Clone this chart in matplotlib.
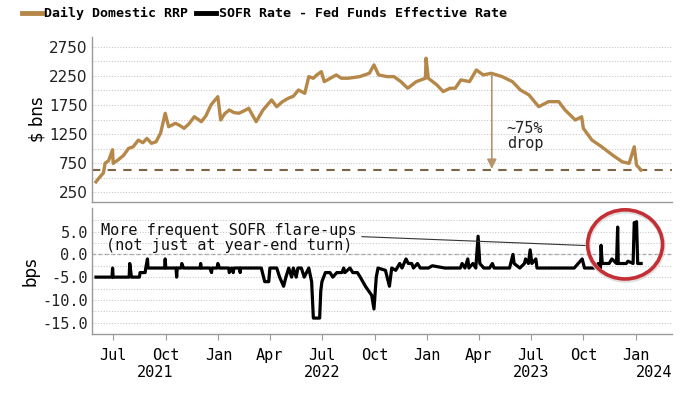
import numpy as np
import pandas as pd
import matplotlib
matplotlib.use("Agg")
import matplotlib.pyplot as plt
import matplotlib.dates as mdates
from matplotlib.patches import Ellipse
from matplotlib.lines import Line2D

# Daily domestic reverse repo usage ($ bns)
rrp_dates = ["2021-06-01", "2021-06-08", "2021-06-14", "2021-06-17", "2021-06-23", "2021-06-30",
             "2021-07-01", "2021-07-09", "2021-07-19", "2021-07-28", "2021-08-05", "2021-08-14",
             "2021-08-22", "2021-08-29", "2021-09-06", "2021-09-14", "2021-09-22", "2021-09-30",
             "2021-10-06", "2021-10-18", "2021-10-25", "2021-11-02", "2021-11-10", "2021-11-20",
             "2021-12-02", "2021-12-10", "2021-12-19", "2021-12-31", "2022-01-05", "2022-01-12",
             "2022-01-20", "2022-01-28", "2022-02-06", "2022-02-15", "2022-02-23", "2022-03-08",
             "2022-03-20", "2022-04-04", "2022-04-13", "2022-04-23", "2022-05-03", "2022-05-12",
             "2022-05-21", "2022-06-01", "2022-06-08", "2022-06-16", "2022-06-22", "2022-06-30",
             "2022-07-05", "2022-07-14", "2022-07-26", "2022-08-04", "2022-08-16", "2022-09-05",
             "2022-09-22", "2022-09-30", "2022-10-08", "2022-10-23", "2022-11-04", "2022-11-16",
             "2022-11-28", "2022-12-13", "2022-12-29", "2022-12-30", "2023-01-03", "2023-01-18",
             "2023-01-29", "2023-02-10", "2023-02-19", "2023-03-01", "2023-03-16", "2023-03-28",
             "2023-04-09", "2023-04-23", "2023-05-12", "2023-05-30", "2023-06-13", "2023-06-28",
             "2023-07-15", "2023-08-01", "2023-08-19", "2023-08-30", "2023-09-17", "2023-09-28",
             "2023-10-01", "2023-10-16", "2023-11-02", "2023-11-21", "2023-12-08", "2023-12-20",
             "2023-12-29", "2024-01-02", "2024-01-10"]
rrp_bns = [427, 514, 580, 750, 790, 980,
           745, 800, 880, 1003, 1030, 1146,
           1100, 1175, 1090, 1117, 1267, 1607,
           1376, 1434, 1400, 1348, 1420, 1548,
           1462, 1560, 1750, 1893, 1491, 1600,
           1664, 1620, 1607, 1650, 1693, 1462,
           1664, 1836, 1720, 1807, 1865, 1900,
           2008, 1951, 2238, 2210, 2267, 2324,
           2152, 2200, 2267, 2210, 2210, 2238,
           2296, 2440, 2267, 2238, 2238, 2152,
           2038, 2152, 2210, 2555, 2210, 2095,
           1980, 2038, 2038, 2181, 2152, 2353,
           2267, 2296, 2238, 2152, 2008, 1922,
           1720, 1807, 1807, 1664, 1491, 1548,
           1348, 1146, 1031, 888, 772, 745,
           1031, 715, 629]

# SOFR minus fed funds effective rate (bps)
sofr_dates = ["2021-06-01", "2021-06-29", "2021-06-30", "2021-07-01", "2021-07-29", "2021-07-30",
              "2021-08-02", "2021-08-16", "2021-08-17", "2021-08-26", "2021-08-27", "2021-08-30",
              "2021-08-31", "2021-09-29", "2021-09-30", "2021-10-01", "2021-10-19", "2021-10-20",
              "2021-10-21", "2021-10-28", "2021-10-29", "2021-11-01", "2021-11-30", "2021-12-01",
              "2021-12-02", "2021-12-17", "2021-12-20", "2021-12-21", "2021-12-30", "2021-12-31",
              "2022-01-03", "2022-01-19", "2022-01-20", "2022-01-24", "2022-01-27", "2022-01-28",
              "2022-02-07", "2022-02-08", "2022-02-09", "2022-03-17", "2022-03-23", "2022-03-30",
              "2022-04-01", "2022-04-13", "2022-04-18", "2022-04-25", "2022-04-29", "2022-05-04",
              "2022-05-09", "2022-05-12", "2022-05-17", "2022-05-20", "2022-05-26", "2022-05-31",
              "2022-06-08", "2022-06-13", "2022-06-16", "2022-06-27", "2022-06-29", "2022-07-01",
              "2022-07-07", "2022-07-15", "2022-07-20", "2022-07-27", "2022-08-05", "2022-08-08",
              "2022-08-10", "2022-08-19", "2022-08-24", "2022-09-01", "2022-09-06", "2022-09-15",
              "2022-09-26", "2022-09-30", "2022-10-04", "2022-10-07", "2022-10-20", "2022-10-27",
              "2022-10-31", "2022-11-07", "2022-11-14", "2022-11-18", "2022-11-25", "2022-11-29",
              "2022-12-05", "2022-12-08", "2022-12-15", "2022-12-20", "2023-01-03", "2023-01-10",
              "2023-02-01", "2023-02-28", "2023-03-03", "2023-03-08", "2023-03-13", "2023-03-15",
              "2023-03-22", "2023-03-27", "2023-03-31", "2023-04-03", "2023-04-10", "2023-04-20",
              "2023-04-25", "2023-04-28", "2023-05-25", "2023-05-31", "2023-06-02", "2023-06-12",
              "2023-06-20", "2023-06-22", "2023-06-27", "2023-06-30", "2023-07-03", "2023-07-10",
              "2023-07-12", "2023-09-15", "2023-09-29", "2023-10-03", "2023-10-20", "2023-10-27",
              "2023-10-31", "2023-11-01", "2023-11-03", "2023-11-15", "2023-11-20", "2023-11-28",
              "2023-11-30", "2023-12-01", "2023-12-15", "2023-12-18", "2023-12-27", "2023-12-29",
              "2024-01-01", "2024-01-02", "2024-01-04", "2024-01-10"]
sofr_bps = [-5, -5, -3, -5, -5, -2,
            -5, -5, -4, -4, -3, -1,
            -3, -3, -1, -3, -3, -5,
            -3, -3, -2, -3, -3, -2,
            -3, -3, -4, -3, -3, -2,
            -3, -3, -4, -3, -4, -3,
            -3, -4, -3, -3, -6, -6,
            -3, -3, -5, -7, -5, -3,
            -5, -3, -5, -3, -3, -5,
            -3, -6, -14, -14, -8, -6,
            -4, -4, -5, -4, -4, -3,
            -4, -3, -4, -4, -5, -7,
            -9, -12, -5, -3, -3.5, -7,
            -3, -3.5, -2, -3, -1, -2,
            -2, -3, -2, -3, -3, -2.5,
            -3, -3, -2, -3, -1, -3,
            -2, -3, 4, -2, -3, -3,
            -2, -3, -3, 0, -2, -3,
            -2, -1, -2, 1, -2, -1,
            -3, -3, -1, -3, -3, -2,
            -3, 2, -2, -2, -1, -2,
            6, -2, -2, -1.5, -2, 7,
            6, 7.2, -2, -2]

rrp_level_now = 630  # dashed reference line
month_ticks = ["2021-07-01", "2021-10-01", "2022-01-01", "2022-04-01", "2022-07-01", "2022-10-01",
               "2023-01-01", "2023-04-01", "2023-07-01", "2023-10-01", "2024-01-01"]
month_labels = ["Jul", "Oct", "Jan", "Apr", "Jul", "Oct", "Jan", "Apr", "Jul", "Oct", "Jan"]
year_labels = ["2021", "2022", "2023", "2024"]
year_pos = ["2021-09-12", "2022-07-02", "2023-07-02", "2024-02-01"]

rrp_dates = pd.to_datetime(rrp_dates)
sofr_dates = pd.to_datetime(sofr_dates)
gold = "#B5884A"
mono = "DejaVu Sans Mono"

fig = plt.figure(figsize=(7, 3.94), dpi=100)
ax1 = fig.add_axes([0.1314, 0.4873, 0.8286, 0.4188])
ax2 = fig.add_axes([0.1314, 0.1523, 0.8286, 0.3198], sharex=ax1)

xmin, xmax = pd.Timestamp("2021-05-25"), pd.Timestamp("2024-03-04")

# top panel: RRP
ax1.plot(rrp_dates, rrp_bns, color=gold, lw=2.4, zorder=3)
ax1.axhline(rrp_level_now, color="#7d6444", lw=1.5, linestyle=(0, (4, 3.5)), zorder=2)
ax1.set_ylim(80, 2920)
ax1.set_yticks([250, 750, 1250, 1750, 2250, 2750])
ax1.set_yticks(np.arange(250, 2800, 250), minor=True)
ax1.grid(axis="y", which="both", color="#c8c8c8", linestyle=(0, (1, 1.5)), lw=0.8)
ax1.set_ylabel("$ bns", fontsize=12, labelpad=2)
ax1.tick_params(axis="y", which="both", length=0, labelsize=11, pad=3)
ax1.tick_params(axis="x", which="both", length=0, labelbottom=False)

arrow_date = pd.Timestamp("2023-04-24")
ax1.annotate("", xy=(arrow_date, 650), xytext=(arrow_date, 2270),
             arrowprops=dict(arrowstyle="-|>", color="#b8946a", lw=1.2,
                             mutation_scale=14, shrinkA=0, shrinkB=0))
ax1.text(pd.Timestamp("2023-05-20"), 1215, "~75%\ndrop", family=mono, fontsize=11,
         va="center", ha="left", linespacing=1.05, color="#222222")

# bottom panel: SOFR - EFFR
ax2.plot(sofr_dates, sofr_bps, color="black", lw=2.3, zorder=3)
ax2.set_ylim(-17.5, 10.2)
ax2.set_yticks([5, 0, -5, -10, -15])
ax2.set_yticks(np.arange(-15, 10, 2.5), minor=True)
ax2.set_yticklabels(["5.0", "0.0", "-5.0", "-10.0", "-15.0"], family=mono)
ax2.grid(axis="y", which="both", color="#c8c8c8", linestyle=(0, (1, 1.5)), lw=0.8)
ax2.axhline(0, color="#999999", lw=0.9, linestyle=(0, (3, 2)), zorder=1)
ax2.set_ylabel("bps", fontsize=12, labelpad=2)
ax2.tick_params(axis="y", which="both", length=0, labelsize=11, pad=3)

ax2.text(pd.Timestamp("2022-01-19"), 3.6,
         "More frequent SOFR flare-ups\n(not just at year-end turn)",
         family=mono, fontsize=11, ha="center", va="center", multialignment="center",
         linespacing=1.05, color="#111111", zorder=4)
ax2.plot([pd.Timestamp("2022-09-09"), pd.Timestamp("2023-10-04")], [3.9, 1.95],
         color="#333333", lw=0.8, zorder=4)

ell_c = mdates.date2num(pd.Timestamp("2023-12-13"))
ax2.add_patch(Ellipse((ell_c + 1, 1.9), 131, 15.2, fill=False, edgecolor="#dedede",
                      lw=3.5, zorder=4))
ax2.add_patch(Ellipse((ell_c, 2.2), 131, 15.2, fill=False, edgecolor="#c42f36",
                      lw=2.6, zorder=5, clip_on=False))

ax2.set_xlim(xmin, xmax)
ax2.set_xticks(pd.to_datetime(month_ticks))
ax2.set_xticklabels(month_labels, family=mono, fontsize=11)
ax2.tick_params(axis="x", length=4, width=0.8, color="#999999", pad=6)
for lab, pos in zip(year_labels, year_pos):
    ax2.text(pd.Timestamp(pos), -0.305, lab, transform=ax2.get_xaxis_transform(),
             family=mono, fontsize=11, ha="center", va="center")

for ax in (ax1, ax2):
    for side in ("top", "right"):
        ax.spines[side].set_visible(False)
    for side in ("left", "bottom"):
        ax.spines[side].set_color("#9a9a9a")
        ax.spines[side].set_linewidth(1.0)
    for lab in ax.get_yticklabels():
        lab.set_color("#222222")

handles = [Line2D([], [], color=gold, lw=3.5), Line2D([], [], color="black", lw=3.5)]
fig.legend(handles, ["Daily Domestic RRP", "SOFR Rate - Fed Funds Effective Rate"],
           loc="upper left", bbox_to_anchor=(0.018, 1.005), ncol=2, frameon=False,
           prop={"family": mono, "size": 9.5, "weight": "bold"},
           handlelength=1.5, handletextpad=0.2, columnspacing=0.6, borderpad=0.2)

fig.savefig("out.png", dpi=100)
